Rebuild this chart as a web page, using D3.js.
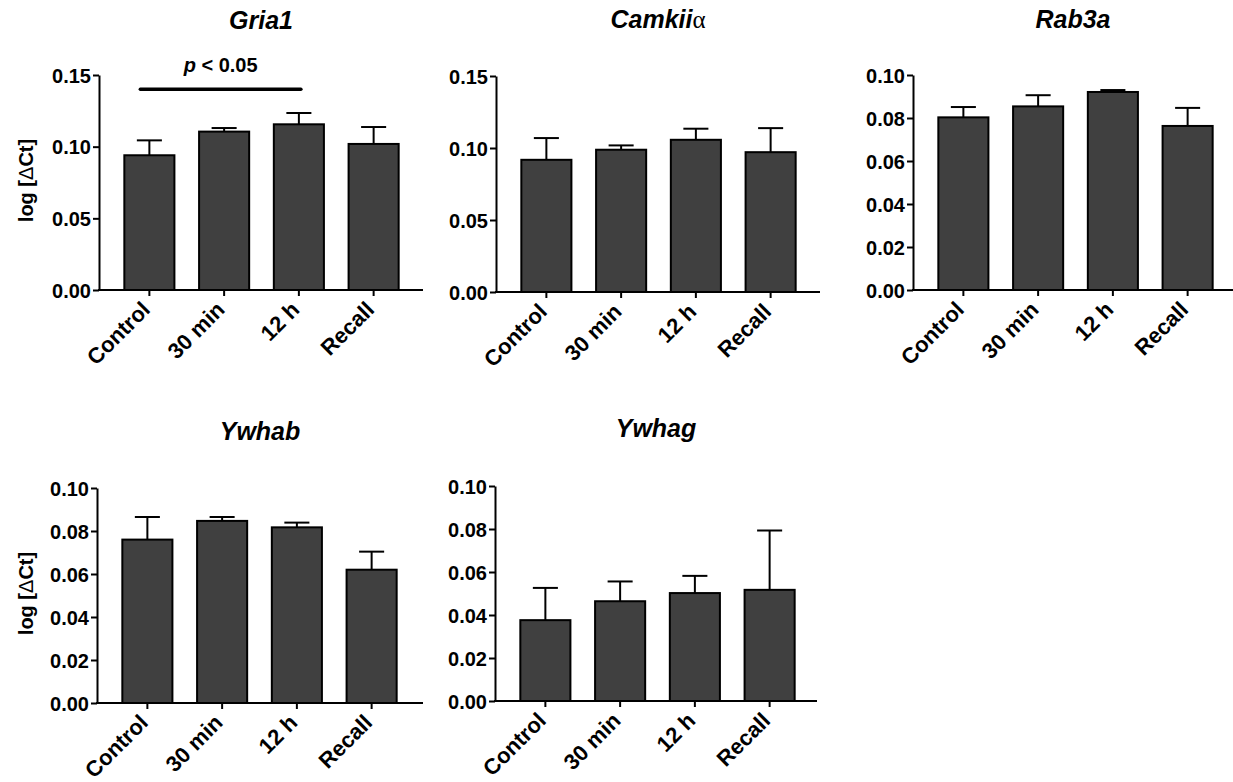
<!DOCTYPE html>
<html>
<head>
<meta charset="utf-8">
<script src="https://cdn.jsdelivr.net/npm/d3@7"></script>
<style>
  html, body { margin: 0; padding: 0; background: #fff; }
  svg { display: block; }
  text { font-family: Arial, "Liberation Sans", Helvetica, sans-serif; fill: #000; }
</style>
</head>
<body>
<svg id="chart" width="1233" height="782"></svg>
<script>
// Groups on the x axis
const categories = ["Control", "30 min", "12 h", "Recall"];

// Mean log [ΔCt] and SEM per gene
const gria1Mean   = [0.0940, 0.1105, 0.1156, 0.1019];
const gria1Sem    = [0.0104, 0.0025, 0.0079, 0.0118];
const camkiiMean  = [0.0918, 0.0988, 0.1057, 0.0971];
const camkiiSem   = [0.0151, 0.0030, 0.0077, 0.0167];
const rab3aMean   = [0.0803, 0.0854, 0.0921, 0.0763];
const rab3aSem    = [0.0048, 0.0052, 0.0009, 0.0084];
const ywhabMean   = [0.0760, 0.0847, 0.0817, 0.0620];
const ywhabSem    = [0.0105, 0.0018, 0.0022, 0.0084];
const ywhagMean   = [0.0376, 0.0464, 0.0502, 0.0517];
const ywhagSem    = [0.0150, 0.0092, 0.0080, 0.0276];

// Y axis ticks
const ticks015 = [0, 0.05, 0.10, 0.15];
const ticks010 = [0, 0.02, 0.04, 0.06, 0.08, 0.10];

// Significance annotation on Gria1 (Control vs 12 h)
const gria1Sig = { from: "Control", to: "12 h", level: 0.140, label: "p < 0.05" };

// Panel placement on the page
const panels = [
  { title: "Gria1",  greek: null, mean: gria1Mean,  sem: gria1Sem,  ticks: ticks015, left: 99,  top: 75,  bottom: 290, right: 423, titleY: 29,  ylab: true,  sig: gria1Sig },
  { title: "Camkii", greek: "α",  mean: camkiiMean, sem: camkiiSem, ticks: ticks015, left: 496, top: 76,  bottom: 292, right: 820, titleY: 28,  ylab: false },
  { title: "Rab3a",  greek: null, mean: rab3aMean,  sem: rab3aSem,  ticks: ticks010, left: 913, top: 75,  bottom: 290, right: 1233, titleY: 28, ylab: false },
  { title: "Ywhab",  greek: null, mean: ywhabMean,  sem: ywhabSem,  ticks: ticks010, left: 97,  top: 488, bottom: 703, right: 423, titleY: 440, ylab: true },
  { title: "Ywhag",  greek: null, mean: ywhagMean,  sem: ywhagSem,  ticks: ticks010, left: 495, top: 486, bottom: 701, right: 817, titleY: 437, ylab: false }
];

const svg = d3.select("#chart");
const fmt = d3.format(".2f");

panels.forEach(p => {
  const g = svg.append("g");
  const yMax = p.ticks[p.ticks.length - 1];
  const y = d3.scaleLinear().domain([0, yMax]).range([p.bottom, p.top]);
  const x = d3.scaleBand().domain(categories)
    .range([p.left + 13, p.left + 312])
    .paddingInner(0.33).paddingOuter(0.165);
  const bw = x.bandwidth();

  // bars
  g.selectAll("rect.bar").data(categories).enter().append("rect")
    .attr("class", "bar")
    .attr("x", d => x(d))
    .attr("width", bw)
    .attr("y", (d, i) => y(p.mean[i]))
    .attr("height", (d, i) => y(0) - y(p.mean[i]))
    .attr("fill", "#404040")
    .attr("stroke", "#000")
    .attr("stroke-width", 2);

  // upper error bars
  const eb = g.selectAll("g.err").data(categories).enter().append("g").attr("class", "err");
  eb.append("line")
    .attr("x1", d => x(d) + bw / 2).attr("x2", d => x(d) + bw / 2)
    .attr("y1", (d, i) => y(p.mean[i]))
    .attr("y2", (d, i) => y(p.mean[i] + p.sem[i]))
    .attr("stroke", "#000").attr("stroke-width", 2);
  eb.append("line")
    .attr("x1", d => x(d) + bw / 4).attr("x2", d => x(d) + bw * 3 / 4)
    .attr("y1", (d, i) => y(p.mean[i] + p.sem[i]))
    .attr("y2", (d, i) => y(p.mean[i] + p.sem[i]))
    .attr("stroke", "#000").attr("stroke-width", 2);

  // y axis
  const yAxis = d3.axisLeft(y).tickValues(p.ticks).tickFormat(fmt)
    .tickSize(6).tickSizeOuter(0).tickPadding(2);
  const ya = g.append("g").attr("transform", `translate(${p.left},0)`).call(yAxis);
  ya.select(".domain").attr("stroke", "#000").attr("stroke-width", 2);
  ya.selectAll(".tick line").attr("stroke", "#000").attr("stroke-width", 2);
  ya.selectAll(".tick text")
    .style("font-size", "20px").style("font-weight", "bold")
    .attr("dy", "0.36em");

  // x axis
  const xAxis = d3.axisBottom(x).tickSize(6).tickSizeOuter(0).tickPadding(4);
  const xa = g.append("g").attr("transform", `translate(0,${p.bottom})`).call(xAxis);
  xa.select(".domain").remove();
  xa.selectAll(".tick line").attr("stroke", "#000").attr("stroke-width", 2);
  xa.selectAll(".tick text")
    .style("font-size", "22px").style("font-weight", "bold")
    .attr("text-anchor", "end")
    .attr("y", 0).attr("dy", 0)
    .attr("transform", "translate(2,21) rotate(-45)");
  g.append("line")
    .attr("x1", p.left - 1).attr("x2", p.right)
    .attr("y1", p.bottom).attr("y2", p.bottom)
    .attr("stroke", "#000").attr("stroke-width", 2);

  // title
  const t = g.append("text")
    .attr("x", (p.left + p.right) / 2)
    .attr("y", p.titleY)
    .attr("text-anchor", "middle")
    .style("font-size", "25px").style("font-weight", "bold").style("font-style", "italic")
    .text(p.title);
  if (p.greek) {
    t.append("tspan")
      .style("font-family", "'Liberation Serif', 'Times New Roman', serif")
      .style("font-weight", "normal").style("font-style", "normal")
      .text(p.greek);
  }

  // y axis label
  if (p.ylab) {
    const cy = (p.top + p.bottom) / 2 - 2;
    const lab = g.append("text")
      .attr("transform", `translate(33,${cy}) rotate(-90)`)
      .attr("text-anchor", "middle")
      .style("font-size", "20px").style("font-weight", "bold");
    lab.append("tspan").text("log [");
    lab.append("tspan").style("font-weight", "normal").text("Δ");
    lab.append("tspan").text("Ct]");
  }

  // significance bar
  if (p.sig) {
    const sy = y(p.sig.level);
    const x1 = x(p.sig.from) + 16;
    const x2 = x(p.sig.to) + bw / 2 + 2;
    g.append("line")
      .attr("x1", x1).attr("x2", x2).attr("y1", sy).attr("y2", sy)
      .attr("stroke", "#000").attr("stroke-width", 3.5).attr("stroke-linecap", "round");
    const st = g.append("text")
      .attr("x", (x1 + x2) / 2).attr("y", sy - 17)
      .attr("text-anchor", "middle")
      .style("font-size", "20px").style("font-weight", "bold");
    const parts = p.sig.label.split(" ");
    st.append("tspan").style("font-style", "italic").text(parts[0]);
    st.append("tspan").text(" " + parts.slice(1).join(" "));
  }
});
</script>
</body>
</html>
